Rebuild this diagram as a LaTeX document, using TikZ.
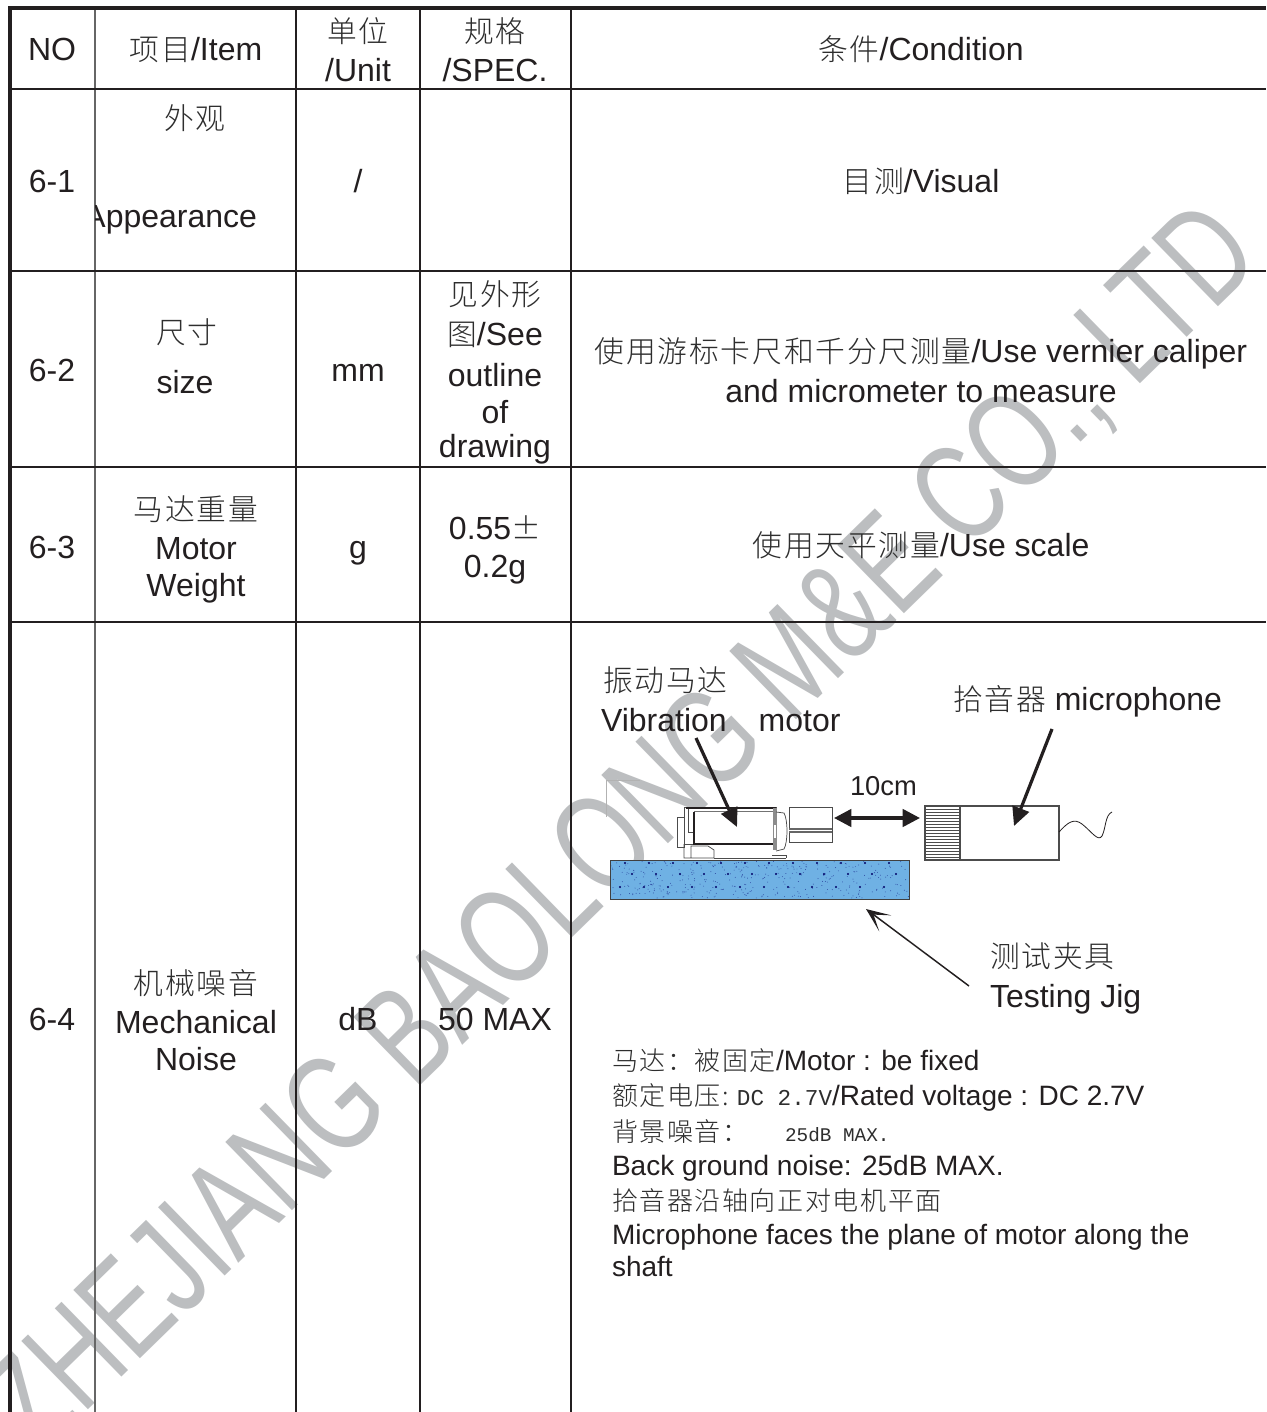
\documentclass[tikz,border=0pt]{standalone}
\usepackage{fontspec}
\usetikzlibrary{arrows.meta}
\setmainfont{Liberation Sans}
\newfontfamily\cjkf{Noto Sans CJK SC Light}[LetterSpace=6,Scale=0.93]
\newfontfamily\cnmono{Liberation Mono}
\definecolor{zhc}{gray}{0.18}
\definecolor{ink}{HTML}{231F20}
\definecolor{wm}{HTML}{BCBEC0}
\definecolor{jigblue}{HTML}{6FB1E4}
\newcommand\zh[1]{{\cjkf\color{zhc}#1}}
\newcommand\monotxt[2][17]{{\cnmono\color{zhc}\fontsize{#1}{20}\selectfont #2}}
\tikzset{
  txt/.style={inner sep=0pt,outer sep=0pt,text=ink,font=\fontsize{24}{28}\selectfont,text height=19.6pt,text depth=2.5pt},
  lft/.style={txt,anchor=west},
  sm/.style={inner sep=0pt,outer sep=0pt,text=ink,anchor=west,font=\fontsize{21}{24}\selectfont,text height=17.1pt,text depth=1.8pt},
  grid/.style={draw=ink,line width=1.5pt},
  gridlight/.style={draw=black!60,line width=1.5pt},
  thickgrid/.style={draw=ink,line width=2.6pt},
  fine/.style={draw=black!70,line width=0.55pt},
  pointer/.style={draw=ink,line width=2.4pt,-{Triangle[length=14pt,width=13pt]}},
  both/.style={draw=ink,line width=2.6pt,{Triangle[length=13pt,width=13pt]}-{Triangle[length=13pt,width=13pt]}},
  barb/.style={draw=ink,line width=1.1pt,-{Stealth[length=18pt,width=15pt,inset=11pt]}}
}
\begin{document}
\begin{tikzpicture}[x=0.75pt,y=-0.75pt]
\useasboundingbox (0,0) rectangle (1266,1412);
\clip (0,0) rectangle (1266,1412);
\fill[white] (0,0) rectangle (1266,1412);
% watermark
\begin{scope}[shift={(624,832)},rotate=44.3,xscale=0.725]
\node[transform shape,inner sep=0pt,text=wm,font=\fontsize{104}{110}\selectfont] (watermark) at (0,0) {ZHEJIANG BAOLONG M\&E CO., LTD};
\end{scope}
% table
\draw[gridlight] (94.5,7) -- (94.5,1412);
\draw[grid] (296,7) -- (296,1412);
\draw[grid] (420,7) -- (420,1412);
\draw[grid] (571,7) -- (571,1412);
\draw[grid] (10,89) -- (1266,89);
\draw[grid] (10,271) -- (1266,271);
\draw[grid] (10,467) -- (1266,467);
\draw[grid] (10,622) -- (1266,622);
\draw[thickgrid] (10,1412) -- (10,8) -- (1266,8);
% header
\node[txt] (hno) at (52,49) {NO};
\node[txt] (hitem) at (196,49) {\zh{项目}/Item};
\node[txt] (hunit1) at (358,31) {\zh{单位}};
\node[txt] (hunit2) at (358,70) {/Unit};
\node[txt] (hspec1) at (495,31) {\zh{规格}};
\node[txt] (hspec2) at (495,70) {/SPEC.};
\node[txt] (hcond) at (921,49) {\zh{条件}/Condition};
% 6-1
\node[txt] (n1) at (52,181) {6-1};
\node[txt] (a1) at (195,118) {\zh{外观}};
\begin{scope}
\clip (95.5,190) rectangle (290,240);
\node[txt,anchor=east] (a2) at (257,216) {Appearance};
\end{scope}
\node[txt] (a3) at (358,181) {/};
\node[txt] (a4) at (921,181) {\zh{目测}/Visual};
% 6-2
\node[txt] (n2) at (52,370) {6-2};
\node[txt] (b1) at (187,332) {\zh{尺寸}};
\node[txt] (b2) at (185,382) {size};
\node[txt] (b3) at (358,370) {mm};
\node[txt] (b4) at (495,294) {\zh{见外形}};
\node[txt] (b5) at (495,334) {\zh{图}/See};
\node[txt] (b6) at (495,375) {outline};
\node[txt] (b7) at (495,412) {of};
\node[txt] (b8) at (495,446) {drawing};
\node[txt] (b9) at (921,351) {\zh{使用游标卡尺和千分尺测量}/Use vernier caliper};
\node[txt] (b10) at (921,391) {and micrometer to measure};
% 6-3
\node[txt] (n3) at (52,547) {6-3};
\node[txt] (c1) at (196,509) {\zh{马达重量}};
\node[txt] (c2) at (196,548) {Motor};
\node[txt] (c3) at (196,585) {Weight};
\node[txt] (c4) at (358,547) {g};
\node[txt] (c5) at (495,528) {0.55\zh{±}};
\node[txt] (c6) at (495,566) {0.2g};
\node[txt] (c7) at (921,545) {\zh{使用天平测量}/Use scale};
% 6-4
\node[txt] (n4) at (52,1019) {6-4};
\node[txt] (d1) at (196,983) {\zh{机械噪音}};
\node[txt] (d2) at (196,1022) {Mechanical};
\node[txt] (d3) at (196,1059) {Noise};
\node[txt] (d4) at (358,1019) {dB};
\node[txt] (d5) at (495,1019) {50 MAX};
% diagram labels
\node[lft] (l1) at (603,680) {\zh{振动马达}};
\node[lft] (l2) at (601,720) {Vibration\hspace{24pt}motor};
\node[lft] (l3) at (953,699) {\zh{拾音器} microphone};
\node[lft,font=\fontsize{20.5}{24}\selectfont,text height=16pt,text depth=3pt] (l4) at (850,787) {10cm};
\node[lft] (l5) at (990,956) {\zh{测试夹具}};
\node[lft] (l6) at (990,996) {Testing Jig};
% description
\node[sm] (e1) at (612,1060) {\zh{马达：被固定}/Motor : be fixed};
\node[sm] (e2) at (612,1095) {\zh{额定电压:}\hspace{6pt}\monotxt{DC 2.7V}/Rated voltage : DC 2.7V};
\node[sm] (e3) at (612,1131) {\zh{背景噪音：}\hspace{27.5pt}\monotxt[14.5]{25dB MAX.}};
\node[sm] (e4) at (612,1165) {Back ground noise: 25dB MAX.};
\node[sm] (e5) at (612,1200) {\zh{拾音器沿轴向正对电机平面}};
\node[sm] (e6) at (612,1234) {Microphone faces the plane of motor along the};
\node[sm] (e7) at (612,1266) {shaft};
% jig
\path[fill=jigblue] (610,860) rectangle (909.5,899);
\pgfmathsetseed{7}
\foreach \i in {1,...,380}{
  \pgfmathsetmacro\px{611+rnd*298}
  \pgfmathsetmacro\py{861+rnd*37}
  \fill[blue!45!black!60!jigblue] (\px,\py) circle (0.35pt);
}
\foreach \i in {0,...,11}{
  \fill[blue!40!black] ({632+\i*24},874) circle (0.9pt);
  \fill[blue!40!black] ({620+\i*24},887) circle (0.9pt);
  \fill[blue!40!black] ({625+\i*24},863) circle (0.8pt);
}
\draw[draw=black!75,line width=0.7pt] (610,860) rectangle (909.5,899);
% corner mark
\draw[draw=black!30,line width=0.4pt] (640,780) -- (606,780) -- (606,817);
% motor
\draw[fine,fill=white] (677,817) rectangle (684,847);
\draw[fine,fill=white] (684,807) rectangle (776,844);
\draw[fine] (684,844) -- (684,858) -- (714,858) -- (714,850) -- (708,846) -- (691,846) -- (691,858);
\draw[fine] (688,807) -- (688,832) -- (694,832);
\draw[draw=ink,line width=1.5pt] (686,807.5) -- (776,807.5);
\draw[draw=black!55,line width=1pt] (694,811.5) -- (773,811.5);
\draw[draw=ink,line width=0.9pt] (694,811.5) -- (694,844) -- (773,844);
\fill[black!45] (773,808) rectangle (776.5,850);
\fill[white] (773.6,825) rectangle (776,838);
\draw[fine] (714,858) -- (786,858);
\draw[fine] (772,855) -- (786,855) -- (786,858);
\draw[fine] (776,812) -- (784,813) .. controls (788,820) and (788,842) .. (784,849) -- (776,851);
\draw[fine,fill=white] (789,807) rectangle (832,842);
\fill[black!60] (789,828) rectangle (832,833);
\draw[draw=white,line width=0.4pt] (789,830.5) -- (832,830.5);
% microphone
\draw[fine,line width=0.8pt,fill=white] (925,806) rectangle (1059,860);
\draw[fine,line width=0.8pt] (960,806) -- (960,860);
\foreach \yy in {809,812,...,857}{\draw[draw=black!70,line width=0.4pt] (925,\yy) -- (960,\yy);}
\coordinate (wire0) at (1059,832);
\coordinate (wire1) at (1112,812);
\draw[draw=ink,line width=0.6pt] (wire0) .. controls (1068,822) and (1074,818) .. (1082,824) .. controls (1092,832) and (1098,842) .. (1102,836) .. controls (1106,828) and (1105,815) .. (wire1);
% connectors
\coordinate (va) at (696,738);
\coordinate (vb) at (737,827);
\draw[pointer] (va) -- (vb);
\coordinate (ma) at (1052,729);
\coordinate (mb) at (1014,826);
\draw[pointer] (ma) -- (mb);
\coordinate (da) at (834,818);
\coordinate (db) at (920,818);
\draw[both] (da) -- (db);
\coordinate (ja) at (969,986);
\coordinate (jb) at (866,909);
\draw[barb] (ja) -- (jb);
\end{tikzpicture}
\end{document}
